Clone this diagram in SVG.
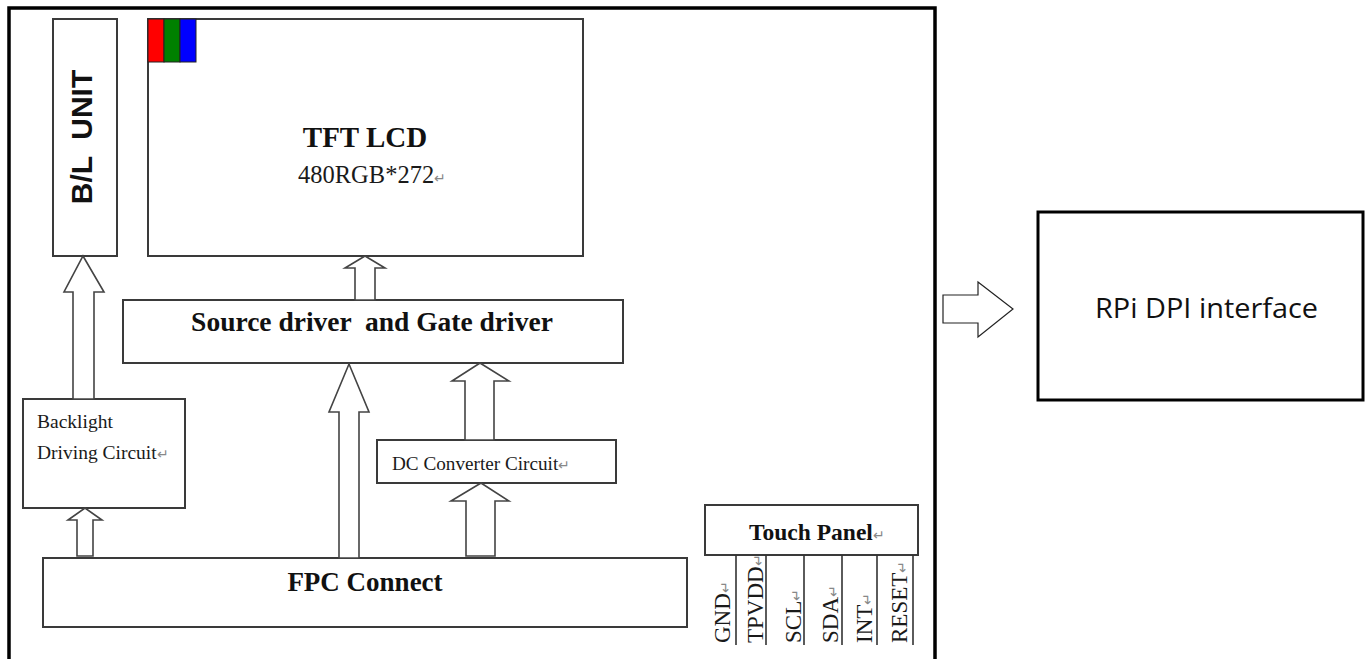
<svg xmlns="http://www.w3.org/2000/svg" width="1370" height="659" viewBox="0 0 1370 659">
<style>
.box{fill:#fff;stroke:#3a3a3a;stroke-width:2}
.arr{fill:#fff;stroke:#444;stroke-width:1.6;stroke-linejoin:miter}
.sb{font-family:"Liberation Serif","Times New Roman",serif;font-weight:bold;fill:#111}
.sr{font-family:"Liberation Serif","Times New Roman",serif;fill:#1a1a1a}
.ret{fill:#888;font-size:14px;font-weight:normal}
.pin{stroke:#333;stroke-width:1.6}
</style>
<rect width="1370" height="659" fill="#fff"/>
<path d="M9,659 V8 H935 V659" fill="none" stroke="#000" stroke-width="3.5"/>

<g id="bl-unit">
<rect class="box" x="53" y="19" width="64" height="237"/>
<text transform="translate(92,137) rotate(-90)" text-anchor="middle" font-family="Liberation Sans,Arial,sans-serif" font-weight="bold" font-size="30" fill="#111" xml:space="preserve">B/L  UNIT</text>
</g>

<g id="tft-lcd">
<rect class="box" x="148" y="19" width="435" height="237"/>
<rect x="148" y="19" width="16" height="43" fill="#f00" stroke="#222" stroke-width="1"/>
<rect x="164" y="19" width="16" height="43" fill="#008000" stroke="#222" stroke-width="1"/>
<rect x="180" y="19" width="16" height="43" fill="#00f" stroke="#222" stroke-width="1"/>
<text class="sb" x="365" y="147" text-anchor="middle" font-size="29">TFT LCD</text>
<text class="sr" x="298" y="183" font-size="24.5">480RGB*272<tspan class="ret">↵</tspan></text>
</g>

<g id="source-gate-driver">
<rect class="box" x="123" y="300" width="500" height="63"/>
<text class="sb" x="372" y="331" text-anchor="middle" font-size="27.5" xml:space="preserve">Source driver  and Gate driver</text>
</g>

<g id="backlight-driving">
<rect class="box" x="23" y="399" width="162" height="109"/>
<text class="sr" x="37" y="428" font-size="19.5">Backlight</text>
<text class="sr" x="37" y="459" font-size="19.5">Driving Circuit<tspan class="ret">↵</tspan></text>
</g>

<g id="dc-converter">
<rect class="box" x="377" y="440" width="239" height="43"/>
<text class="sr" x="392" y="470" font-size="19.2">DC Converter Circuit<tspan class="ret">↵</tspan></text>
</g>

<g id="fpc-connect">
<rect class="box" x="43" y="558" width="644" height="69"/>
<text class="sb" x="365" y="591" text-anchor="middle" font-size="27">FPC Connect</text>
</g>

<g id="touch-panel">
<rect class="box" x="705" y="505" width="213" height="50"/>
<text class="sb" x="749" y="540" font-size="23.5">Touch Panel<tspan class="ret">↵</tspan></text>
<line class="pin" x1="736" y1="555" x2="736" y2="645"/>
<line class="pin" x1="766" y1="555" x2="766" y2="645"/>
<line class="pin" x1="804" y1="555" x2="804" y2="645"/>
<line class="pin" x1="842" y1="555" x2="842" y2="645"/>
<line class="pin" x1="877" y1="555" x2="877" y2="645"/>
<line class="pin" x1="913" y1="555" x2="913" y2="645"/>
<text class="sr" transform="translate(730,643) rotate(-90)" font-size="23">GND<tspan class="ret">↵</tspan></text>
<text class="sr" transform="translate(763,643) rotate(-90)" font-size="23">TPVDD<tspan class="ret">↵</tspan></text>
<text class="sr" transform="translate(801,643) rotate(-90)" font-size="23">SCL<tspan class="ret">↵</tspan></text>
<text class="sr" transform="translate(838,643) rotate(-90)" font-size="23">SDA<tspan class="ret">↵</tspan></text>
<text class="sr" transform="translate(872,643) rotate(-90)" font-size="23">INT<tspan class="ret">↵</tspan></text>
<text class="sr" transform="translate(907,643) rotate(-90)" font-size="23">RESET<tspan class="ret">↵</tspan></text>
</g>

<g id="rpi-dpi">
<rect x="1038" y="212" width="325" height="188" fill="#fff" stroke="#000" stroke-width="3"/>
<text x="1095" y="318" textLength="223" lengthAdjust="spacingAndGlyphs" font-family="Open Sans,Noto Sans,sans-serif" font-size="27" fill="#111">RPi DPI interface</text>
</g>

<g id="connectors">
<polygon class="arr" points="83,256 104,292 94,292 94,399 73,399 73,292 64,292"/>
<polygon class="arr" points="85,508 102,520 93,520 93,556 77,556 77,520 68,520"/>
<polygon class="arr" points="365,256 385,268 375,268 375,300 355,300 355,268 345,268"/>
<polygon class="arr" points="349,364 369,412 359,412 359,558 339,558 339,412 329,412"/>
<polygon class="arr" points="480,363 509,381 494,381 494,440 465,440 465,381 452,381"/>
<polygon class="arr" points="481,483 509,501 495,501 495,556 466,556 466,501 451,501"/>
<polygon points="943,295 978,295 978,282 1013,309 978,337 978,323 943,323" fill="#fff" stroke="#222" stroke-width="1.2"/>
</g>
</svg>
